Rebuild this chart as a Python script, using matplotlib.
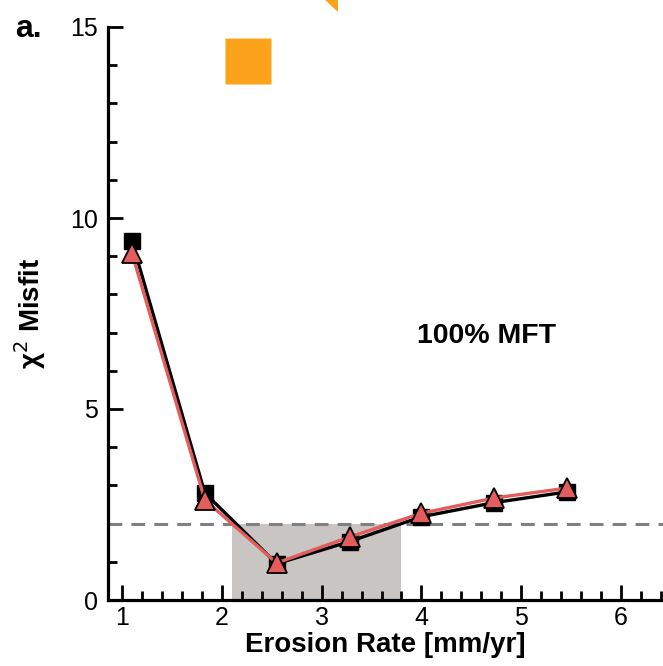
import numpy as np
import matplotlib
matplotlib.use("Agg")
import matplotlib.pyplot as plt
from matplotlib.patches import Rectangle, Polygon
from matplotlib.ticker import MultipleLocator

plt.rcParams['font.family'] = ['Liberation Sans', 'DejaVu Sans']

# erosion rate [mm/yr] and chi^2 misfit, 100% MFT
erosion_rate = [1.10, 1.83, 2.55, 3.28, 4.00, 4.73, 5.46]
misfit_black = [9.40, 2.80, 0.95, 1.53, 2.18, 2.55, 2.83]
misfit_red = [9.08, 2.62, 0.97, 1.65, 2.27, 2.67, 2.93]

accepted_range = (2.10, 3.80)
misfit_cutoff = 2.0

fig = plt.figure(figsize=(6.63, 6.66), dpi=100)
ax = fig.add_axes([108 / 663, 66 / 666, 1 - 108 / 663, (600 - 27) / 666])

ax.add_patch(Rectangle((accepted_range[0], 0), accepted_range[1] - accepted_range[0],
                       misfit_cutoff, facecolor='#c8c5c3', edgecolor='none', zorder=1))
ax.axhline(misfit_cutoff, color='#808080', lw=2.2, dashes=(4.5, 3), zorder=2)

ax.plot(erosion_rate, misfit_black, color='black', lw=2.4, marker='s', ms=12,
        mfc='black', mec='black', zorder=3)
ax.plot(erosion_rate, misfit_red, color='#e35d5d', lw=2.4, marker='^', ms=15,
        mfc='#e35d5d', mec='black', mew=1.3, zorder=4)

ax.set_xlim(0.86, 6.42)
ax.set_ylim(0, 15)
ax.xaxis.set_major_locator(MultipleLocator(1))
ax.xaxis.set_minor_locator(MultipleLocator(0.2))
ax.yaxis.set_major_locator(MultipleLocator(5))
ax.yaxis.set_minor_locator(MultipleLocator(1))

for s in ['top', 'right']:
    ax.spines[s].set_visible(False)
for s in ['left', 'bottom']:
    ax.spines[s].set_linewidth(2.3)
ax.tick_params(which='major', direction='in', length=11, width=2, labelsize=18)
ax.tick_params(which='minor', direction='in', length=6.5, width=2)
ax.tick_params(axis='x', which='major', pad=4)
ax.tick_params(axis='y', which='major', pad=7)

ax.set_xlabel('Erosion Rate [mm/yr]', fontsize=20, fontweight='bold', labelpad=2)
ax.set_ylabel('χ$^{2}$ Misfit', fontsize=20, fontweight='bold', labelpad=16)

ax.text(0.557, 0.461, '100% MFT', transform=ax.transAxes, fontsize=20.5,
        fontweight='bold', ha='left', va='center')

# legend remnants at top
ax.plot([0.253], [0.941], transform=ax.transAxes, marker='s', ms=33,
        color='#fba31a', mec='none', clip_on=False)
fig.patches.append(Polygon([[325 / 663, 1], [338 / 663, 1], [338 / 663, 1 - 12 / 666]],
                           closed=True, transform=fig.transFigure, facecolor='#fba31a',
                           edgecolor='none'))

fig.text(15 / 663, 1 - 29 / 666, 'a.', fontsize=23, fontweight='bold', va='center')

fig.savefig('out.png', dpi=100)
